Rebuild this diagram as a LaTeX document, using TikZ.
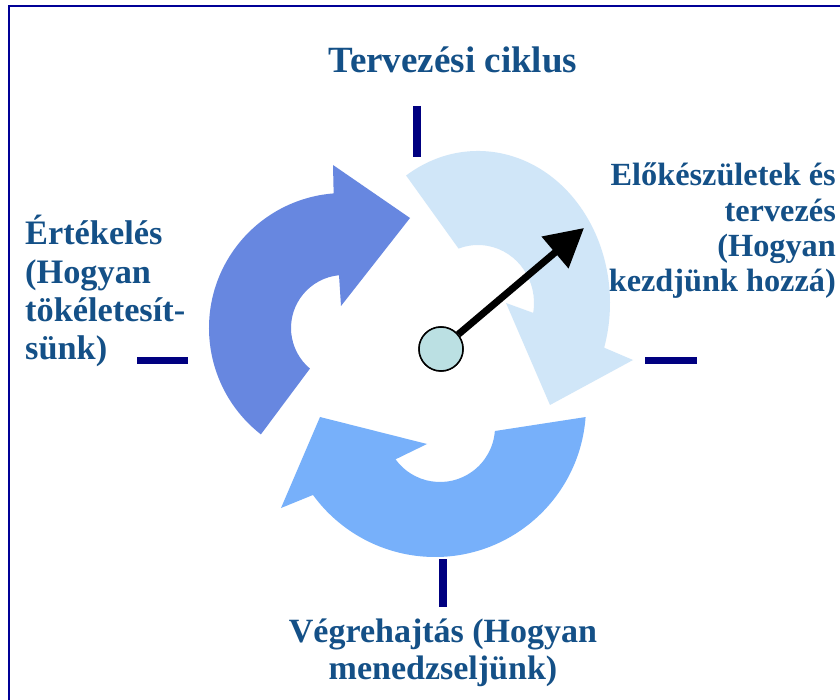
\documentclass[tikz,border=0pt]{standalone}
\usepackage{fontspec}
\setmainfont{Liberation Serif}
\usetikzlibrary{arrows.meta}
\definecolor{txtc}{RGB}{20,80,135}
\definecolor{leftc}{RGB}{103,135,224}
\definecolor{lightc}{RGB}{208,230,248}
\definecolor{botc}{RGB}{119,176,250}
\definecolor{hubc}{RGB}{187,224,227}
\definecolor{tickc}{RGB}{0,0,128}
\definecolor{framec}{RGB}{0,0,150}
\tikzset{
  lbl/.style={text=txtc, inner sep=0pt},
  tickmark/.style={draw=tickc, line width=8pt},
  framebar/.style={draw=framec, line width=2.5pt},
  hubstyle/.style={circle, draw=black, line width=1.5pt, fill=hubc, minimum size=44pt, inner sep=0pt},
}
\begin{document}
\begin{tikzpicture}[x=1pt,y=1pt]
\useasboundingbox (0,0) rectangle (840,699);
\fill[white] (0,0) rectangle (840,699);
% frame (top and left edges)
\draw[framebar] (9,-5) -- (9,693) -- (850,693);

% left arrow
\coordinate (lc) at (344,371);
\fill[leftc] ([shift={(232:135)}]lc) arc[start angle=232, end angle=94.4, radius=135]
  -- (333,534) -- (410,481) -- (341,393)
  -- ([shift={(95.4:53)}]lc) arc[start angle=95.4, end angle=230, radius=53] -- cycle;

% light arrow (top right)
\coordinate (tc) at (478,396);
\fill[lightc] ([shift={(123:132 and 152)}]tc) arc[start angle=123, end angle=-17.1, x radius=132, y radius=152]
  -- (633,339) -- (550,294) -- (506,396)
  -- ([shift={(-9.8:56 and 58)}]tc) arc[start angle=-9.8, end angle=110.3, x radius=56, y radius=58] -- cycle;

% bottom arrow
\coordinate (boc) at (435,293);
\coordinate (bic) at (440,272);
\fill[botc] ([shift={(-4.2:151)}]boc) arc[start angle=-4.2, end angle=-143.9, radius=151]
  -- (281,191) -- (320,282) -- (427,255)
  -- ([shift={(-144:55)}]bic) arc[start angle=-144, end angle=-4.2, radius=55] -- cycle;

% tick marks
\coordinate (tt1) at (416.5,593); \coordinate (tt2) at (416.5,542);
\coordinate (bt1) at (442.5,140); \coordinate (bt2) at (442.5,92);
\coordinate (lt1) at (137,338.5); \coordinate (lt2) at (188,338.5);
\coordinate (rt1) at (645,338.5); \coordinate (rt2) at (697,338.5);
\draw[tickmark] (tt1) -- (tt2);
\draw[tickmark] (bt1) -- (bt2);
\draw[tickmark, line width=7pt] (lt1) -- (lt2);
\draw[tickmark, line width=7pt] (rt1) -- (rt2);

% hub and pointer
\node[hubstyle] (hub) at (441,350) {};
\coordinate (ptip) at (584,471);
\draw[line width=7pt, -{Triangle[length=38pt,width=40pt]}] (hub) -- (ptip);
\node[hubstyle] at (hub) {};

% labels
\node[lbl, anchor=base, font=\fontsize{37}{40}\selectfont\bfseries] (title) at (453,626) {Tervezési ciklus};
\node[lbl, anchor=base east, font=\fontsize{32.3}{35.3}\selectfont\bfseries] (prep) at (836,513)
  {\begin{tabular}[t]{@{}r@{}}Előkészületek és\\ tervezés\\ (Hogyan\\ kezdjünk hozzá)\end{tabular}};
\node[lbl, anchor=base west, font=\fontsize{34.3}{38.3}\selectfont\bfseries] (eval) at (25,454)
  {\begin{tabular}[t]{@{}l@{}}Értékelés\\ (Hogyan\\ tökéletesít-\\ sünk)\end{tabular}};
\node[lbl, anchor=base, font=\fontsize{34}{37}\selectfont\bfseries] (exec) at (443,57)
  {\begin{tabular}[t]{@{}c@{}}Végrehajtás (Hogyan\\ menedzseljünk)\end{tabular}};
\end{tikzpicture}
\end{document}
